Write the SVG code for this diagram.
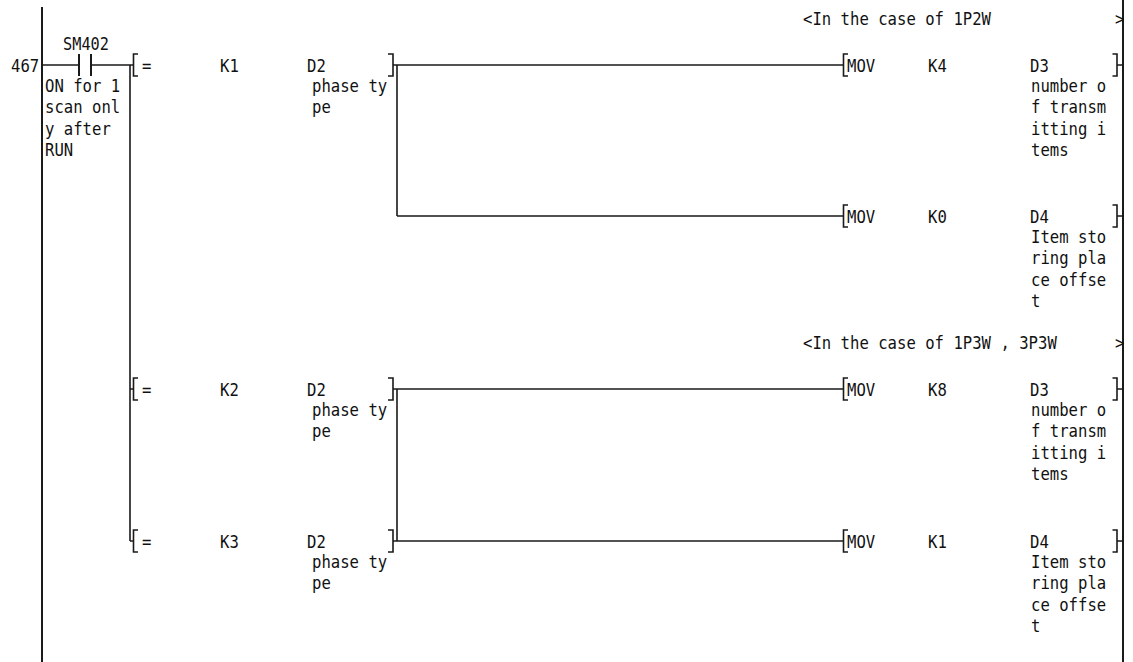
<svg xmlns="http://www.w3.org/2000/svg" width="1133" height="662" viewBox="0 0 1133 662">
<style>
.t{font-family:"DejaVu Sans Mono","Liberation Mono",monospace;font-size:17px;fill:#111}
.ln{stroke:#1a1a1a;stroke-width:1.6;fill:none}
.rail{stroke:#1a1a1a;stroke-width:2;fill:none}
</style>
<rect width="1133" height="662" fill="#fff"/>
<g id="connectors">
<path class="rail" d="M42 7V662M1123 0V662"/>
<path class="ln" d="M42 65H79M91 65H130M130 65V541"/>
<path class="ln" d="M393 65H843M397 65V216M397 216H843"/>
<path class="ln" d="M393 389H843M397 389V541M393 541H843"/>
</g>
<g id="step-467">
<text class="t" x="11" y="72" textLength="28.2" lengthAdjust="spacingAndGlyphs">467</text>
</g>
<g id="contact-SM402">
<text class="t" x="63" y="50" textLength="46" lengthAdjust="spacingAndGlyphs">SM402</text>
<path class="rail" d="M79 54V76M91 54V76"/>
<text class="t" x="45" y="92" textLength="75.2" lengthAdjust="spacingAndGlyphs">ON for 1</text>
<text class="t" x="45" y="113" textLength="75.2" lengthAdjust="spacingAndGlyphs">scan onl</text>
<text class="t" x="45" y="135" textLength="65.8" lengthAdjust="spacingAndGlyphs">y after</text>
<text class="t" x="45" y="156" textLength="28.2" lengthAdjust="spacingAndGlyphs">RUN</text>
</g>
<g id="statement-1">
<text class="t" x="803" y="25" textLength="188" lengthAdjust="spacingAndGlyphs">&lt;In the case of 1P2W</text>
<text class="t" x="1115" y="25" textLength="9.4" lengthAdjust="spacingAndGlyphs">&gt;</text>
</g>
<g id="cmp-K1-D2">
<path class="ln" d="M130 65H133.5M138 54H133.5V76H138"/>
<text class="t" x="142" y="72" textLength="9.4" lengthAdjust="spacingAndGlyphs">=</text>
<text class="t" x="220" y="72" textLength="18.8" lengthAdjust="spacingAndGlyphs">K1</text>
<text class="t" x="307" y="72" textLength="18.8" lengthAdjust="spacingAndGlyphs">D2</text>
<text class="t" x="312" y="92" textLength="75.2" lengthAdjust="spacingAndGlyphs">phase ty</text>
<text class="t" x="312" y="113" textLength="18.8" lengthAdjust="spacingAndGlyphs">pe</text>
<path class="ln" d="M388 54H393V76H388"/>
</g>
<g id="mov-K4-D3">
<path class="ln" d="M848 54H843.5V76H848"/>
<text class="t" x="847" y="72" textLength="28.2" lengthAdjust="spacingAndGlyphs">MOV</text>
<text class="t" x="928" y="72" textLength="18.8" lengthAdjust="spacingAndGlyphs">K4</text>
<text class="t" x="1030" y="72" textLength="18.8" lengthAdjust="spacingAndGlyphs">D3</text>
<text class="t" x="1031" y="92" textLength="75.2" lengthAdjust="spacingAndGlyphs">number o</text>
<text class="t" x="1031" y="113" textLength="75.2" lengthAdjust="spacingAndGlyphs">f transm</text>
<text class="t" x="1031" y="135" textLength="75.2" lengthAdjust="spacingAndGlyphs">itting i</text>
<text class="t" x="1031" y="156" textLength="37.6" lengthAdjust="spacingAndGlyphs">tems</text>
<path class="ln" d="M1112.5 54H1117V76H1112.5M1117 65H1123"/>
</g>
<g id="mov-K0-D4">
<path class="ln" d="M848 205H843.5V227H848"/>
<text class="t" x="847" y="223" textLength="28.2" lengthAdjust="spacingAndGlyphs">MOV</text>
<text class="t" x="928" y="223" textLength="18.8" lengthAdjust="spacingAndGlyphs">K0</text>
<text class="t" x="1030" y="223" textLength="18.8" lengthAdjust="spacingAndGlyphs">D4</text>
<text class="t" x="1031" y="243" textLength="75.2" lengthAdjust="spacingAndGlyphs">Item sto</text>
<text class="t" x="1031" y="264" textLength="75.2" lengthAdjust="spacingAndGlyphs">ring pla</text>
<text class="t" x="1031" y="286" textLength="75.2" lengthAdjust="spacingAndGlyphs">ce offse</text>
<text class="t" x="1031" y="307" textLength="9.4" lengthAdjust="spacingAndGlyphs">t</text>
<path class="ln" d="M1112.5 205H1117V227H1112.5M1117 216H1123"/>
</g>
<g id="statement-2">
<text class="t" x="803" y="349" textLength="253.8" lengthAdjust="spacingAndGlyphs">&lt;In the case of 1P3W , 3P3W</text>
<text class="t" x="1115" y="349" textLength="9.4" lengthAdjust="spacingAndGlyphs">&gt;</text>
</g>
<g id="cmp-K2-D2">
<path class="ln" d="M130 389H133.5M138 378H133.5V400H138"/>
<text class="t" x="142" y="396" textLength="9.4" lengthAdjust="spacingAndGlyphs">=</text>
<text class="t" x="220" y="396" textLength="18.8" lengthAdjust="spacingAndGlyphs">K2</text>
<text class="t" x="307" y="396" textLength="18.8" lengthAdjust="spacingAndGlyphs">D2</text>
<text class="t" x="312" y="416" textLength="75.2" lengthAdjust="spacingAndGlyphs">phase ty</text>
<text class="t" x="312" y="437" textLength="18.8" lengthAdjust="spacingAndGlyphs">pe</text>
<path class="ln" d="M388 378H393V400H388"/>
</g>
<g id="mov-K8-D3">
<path class="ln" d="M848 378H843.5V400H848"/>
<text class="t" x="847" y="396" textLength="28.2" lengthAdjust="spacingAndGlyphs">MOV</text>
<text class="t" x="928" y="396" textLength="18.8" lengthAdjust="spacingAndGlyphs">K8</text>
<text class="t" x="1030" y="396" textLength="18.8" lengthAdjust="spacingAndGlyphs">D3</text>
<text class="t" x="1031" y="416" textLength="75.2" lengthAdjust="spacingAndGlyphs">number o</text>
<text class="t" x="1031" y="437" textLength="75.2" lengthAdjust="spacingAndGlyphs">f transm</text>
<text class="t" x="1031" y="459" textLength="75.2" lengthAdjust="spacingAndGlyphs">itting i</text>
<text class="t" x="1031" y="480" textLength="37.6" lengthAdjust="spacingAndGlyphs">tems</text>
<path class="ln" d="M1112.5 378H1117V400H1112.5M1117 389H1123"/>
</g>
<g id="cmp-K3-D2">
<path class="ln" d="M130 541H133.5M138 530H133.5V552H138"/>
<text class="t" x="142" y="548" textLength="9.4" lengthAdjust="spacingAndGlyphs">=</text>
<text class="t" x="220" y="548" textLength="18.8" lengthAdjust="spacingAndGlyphs">K3</text>
<text class="t" x="307" y="548" textLength="18.8" lengthAdjust="spacingAndGlyphs">D2</text>
<text class="t" x="312" y="568" textLength="75.2" lengthAdjust="spacingAndGlyphs">phase ty</text>
<text class="t" x="312" y="589" textLength="18.8" lengthAdjust="spacingAndGlyphs">pe</text>
<path class="ln" d="M388 530H393V552H388"/>
</g>
<g id="mov-K1-D4">
<path class="ln" d="M848 530H843.5V552H848"/>
<text class="t" x="847" y="548" textLength="28.2" lengthAdjust="spacingAndGlyphs">MOV</text>
<text class="t" x="928" y="548" textLength="18.8" lengthAdjust="spacingAndGlyphs">K1</text>
<text class="t" x="1030" y="548" textLength="18.8" lengthAdjust="spacingAndGlyphs">D4</text>
<text class="t" x="1031" y="568" textLength="75.2" lengthAdjust="spacingAndGlyphs">Item sto</text>
<text class="t" x="1031" y="589" textLength="75.2" lengthAdjust="spacingAndGlyphs">ring pla</text>
<text class="t" x="1031" y="611" textLength="75.2" lengthAdjust="spacingAndGlyphs">ce offse</text>
<text class="t" x="1031" y="632" textLength="9.4" lengthAdjust="spacingAndGlyphs">t</text>
<path class="ln" d="M1112.5 530H1117V552H1112.5M1117 541H1123"/>
</g>
</svg>
